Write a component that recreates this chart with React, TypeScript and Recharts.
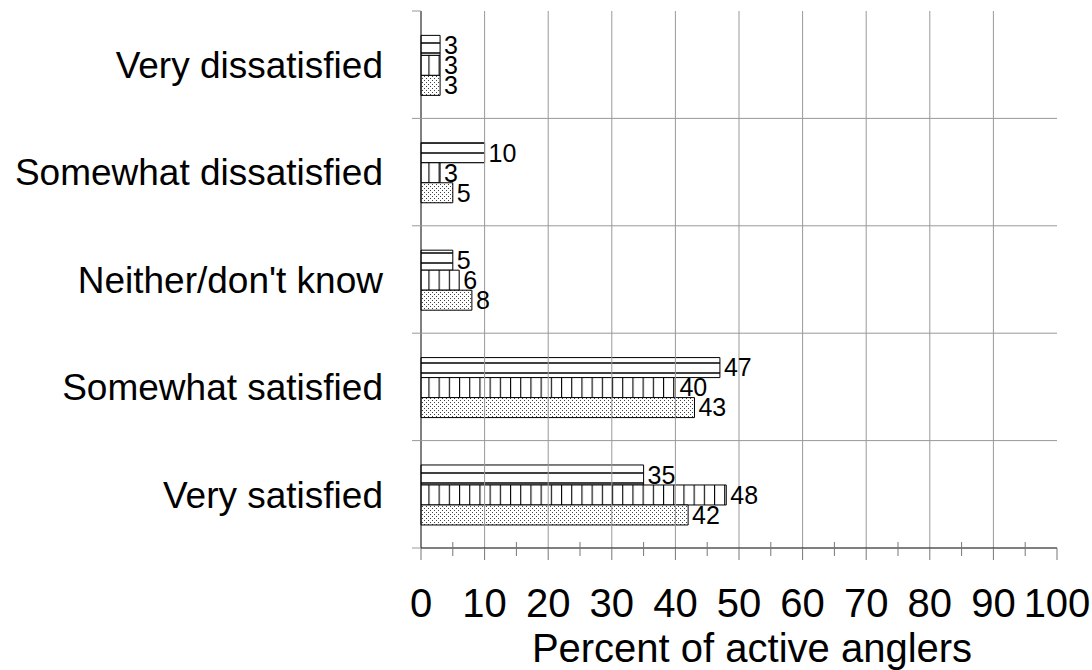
import React from 'react';
import { BarChart, Bar, XAxis, YAxis, LabelList, ReferenceLine } from 'recharts';

const categories = ['Very dissatisfied', 'Somewhat dissatisfied', "Neither/don't know", 'Somewhat satisfied', 'Very satisfied'];
const seriesA = [3, 10, 5, 47, 35];
const seriesB = [3, 3, 6, 40, 48];
const seriesC = [3, 5, 8, 43, 42];
const xTicks = [0, 5, 10, 15, 20, 25, 30, 35, 40, 45, 50, 55, 60, 65, 70, 75, 80, 85, 90, 95, 100];
const gridTicksX = [10, 20, 30, 40, 50, 60, 70, 80, 90];

const data = categories.map((name, i) => ({ name, a: seriesA[i], b: seriesB[i], c: seriesC[i] }));

const FONT = '"Liberation Sans", Arial, sans-serif';
const CHART_W = 1092;
const CHART_H = 670;
const Y_AXIS_W = 421;
const MARGIN_RIGHT = 35;
const PLOT_W = CHART_W - Y_AXIS_W - MARGIN_RIGHT;

// category label + band-edge tick/gridline
const CategoryTick = (props: any) => {
  const { x, y, payload, index } = props;
  const off = payload.offset ?? 0;
  const gridEnd = index === 0 ? x : x + PLOT_W;
  return (
    <g>
      <line x1={x - 9} x2={gridEnd} y1={y - off} y2={y - off} stroke="#999" />
      {index === categories.length - 1 && <line x1={x - 9} x2={x} y1={y + off} y2={y + off} stroke="#999" />}
      <text x={x - 38} y={y} dy="0.36em" textAnchor="end" fontSize={37} fontFamily={FONT} fill="#000">
        {payload.value}
      </text>
    </g>
  );
};

const PercentTick = (props: any) => {
  const { x, y, payload } = props;
  const major = payload.value % 10 === 0;
  return (
    <g>
      {major ? (
        <line x1={x} x2={x} y1={y} y2={y + 12} stroke="#777" />
      ) : (
        <line x1={x} x2={x} y1={y - 6} y2={y + 8} stroke="#777" />
      )}
      {major && (
        <text x={x} y={y + 69} textAnchor="middle" fontSize={40} fontFamily={FONT} fill="#000">
          {payload.value}
        </text>
      )}
    </g>
  );
};

const labelStyle = { fontSize: 25, fontFamily: FONT, fill: '#000' };

export default function App() {
  return (
    <div style={{ position: 'absolute', left: 0, top: 0, background: '#fff' }}>
      <BarChart
        width={CHART_W}
        height={CHART_H}
        data={data}
        layout="vertical"
        margin={{ top: 11, right: MARGIN_RIGHT, bottom: 0, left: 0 }}
        barCategoryGap="22.7%"
        barGap={0}
      >
        <defs>
          <pattern id="hlines" patternUnits="userSpaceOnUse" width={8} height={10}>
            <rect width={8} height={10} fill="#fff" />
            <line x1={0} x2={8} y1={3} y2={3} stroke="#000" strokeWidth={1.5} />
          </pattern>
          <pattern id="vlines" patternUnits="userSpaceOnUse" width={10.2} height={8}>
            <rect width={10.2} height={8} fill="#fff" />
            <line x1={0.5} x2={0.5} y1={0} y2={8} stroke="#000" strokeWidth={1.2} />
          </pattern>
          <pattern id="dots" patternUnits="userSpaceOnUse" width={4} height={4}>
            <rect width={4} height={4} fill="#fff" />
            <rect x={0} y={0} width={1} height={1} fill="#444" />
            <rect x={2} y={2} width={1} height={1} fill="#444" />
          </pattern>
        </defs>
        <XAxis
          type="number"
          domain={[0, 100]}
          ticks={xTicks}
          interval={0}
          height={122}
          tickSize={0}
          tickMargin={0}
          tickLine={false}
          axisLine={{ stroke: '#000' }}
          tick={<PercentTick />}
          label={{ value: 'Percent of active anglers', position: 'insideBottom', offset: 8, dx: 13, fontSize: 40, fontFamily: FONT, fill: '#000' }}
        />
        <XAxis
          xAxisId="top"
          orientation="top"
          type="number"
          domain={[0, 100]}
          height={0}
          tick={false}
          tickLine={false}
          axisLine={{ stroke: '#000' }}
        />
        <YAxis
          type="category"
          dataKey="name"
          width={Y_AXIS_W}
          tickSize={0}
          tickMargin={0}
          tickLine={false}
          axisLine={{ stroke: '#000' }}
          tick={<CategoryTick />}
          interval={0}
        />
        <YAxis
          yAxisId="right"
          orientation="right"
          type="number"
          domain={[0, 1]}
          width={0}
          tick={false}
          tickLine={false}
          axisLine={{ stroke: '#000' }}
        />
        {gridTicksX.map((v) => (
          <ReferenceLine key={`gx${v}`} x={v} stroke="#999" />
        ))}
        <Bar dataKey="a" fill="url(#hlines)" stroke="#000" strokeWidth={1} isAnimationActive={false}>
          <LabelList dataKey="a" position="right" offset={4} style={labelStyle} />
        </Bar>
        <Bar dataKey="b" fill="url(#vlines)" stroke="#000" strokeWidth={1} isAnimationActive={false}>
          <LabelList dataKey="b" position="right" offset={4} style={labelStyle} />
        </Bar>
        <Bar dataKey="c" fill="url(#dots)" stroke="#000" strokeWidth={1} isAnimationActive={false}>
          <LabelList dataKey="c" position="right" offset={4} style={labelStyle} />
        </Bar>
      </BarChart>
    </div>
  );
}
